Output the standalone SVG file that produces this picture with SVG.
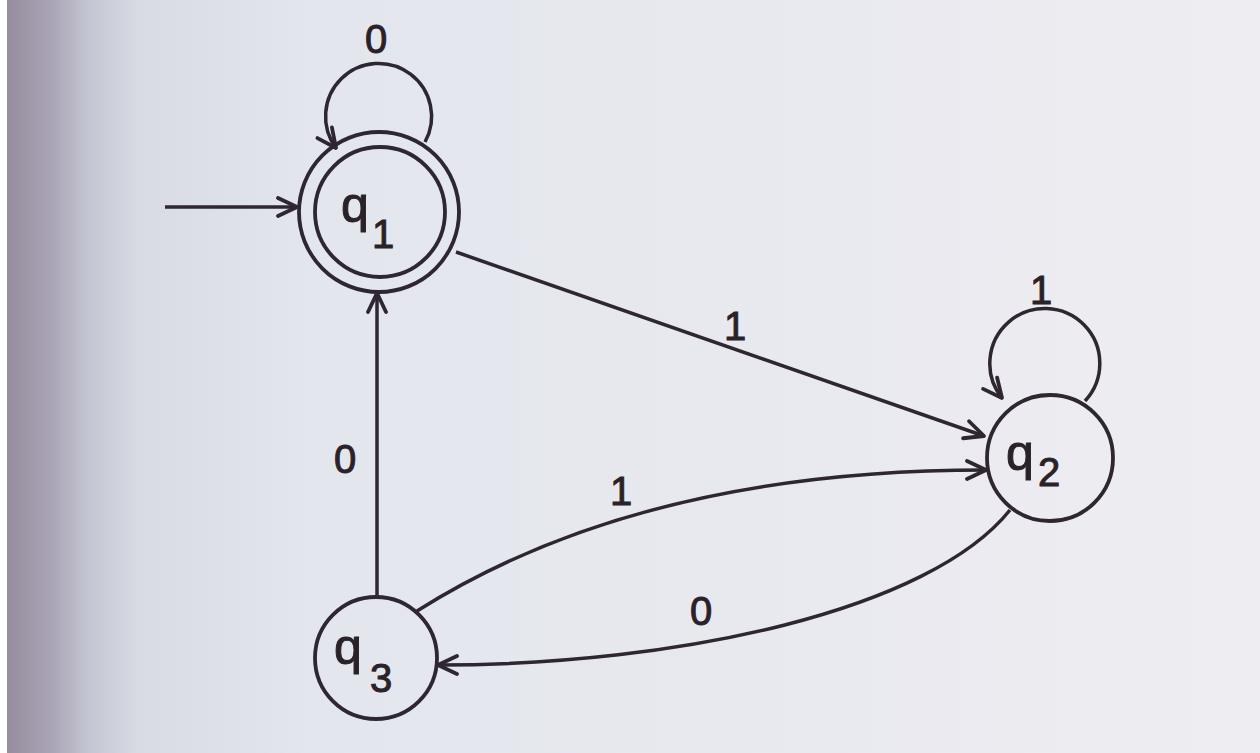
<svg xmlns="http://www.w3.org/2000/svg" width="1260" height="753" viewBox="0 0 1260 753">
  <defs>
    <linearGradient id="bg" x1="0" y1="0" x2="1" y2="0">
      <stop offset="0" stop-color="#938a9a"/>
      <stop offset="0.04" stop-color="#a8a3b5"/>
      <stop offset="0.07" stop-color="#c4c5d2"/>
      <stop offset="0.11" stop-color="#d8dbe4"/>
      <stop offset="0.25" stop-color="#e3e6ed"/>
      <stop offset="1" stop-color="#eeedf2"/>
    </linearGradient>
    <marker id="arr" viewBox="0 0 24 24" refX="22" refY="12" markerWidth="24" markerHeight="24" markerUnits="userSpaceOnUse" orient="auto">
      <path d="M3,3 L22,12 L3,21" fill="none" stroke="#2e2630" stroke-width="3.8" stroke-linecap="round" stroke-linejoin="round"/>
    </marker>
    <style>
      .st { fill: none; stroke: #2e2630; stroke-width: 3.8; }
      .ed { fill: none; stroke: #2e2630; stroke-width: 3.5; marker-end: url(#arr); }
      .q { font-family: "Liberation Sans", "DejaVu Sans", sans-serif; font-size: 50px; fill: #2a2229; stroke: #2a2229; stroke-width: 1; }
      .sub { font-family: "Liberation Sans", "DejaVu Sans", sans-serif; font-size: 40px; fill: #2a2229; }
      .lb { font-family: "Liberation Sans", "DejaVu Sans", sans-serif; font-size: 40px; fill: #2a2229; stroke: #2a2229; stroke-width: 1; text-anchor: middle; }
    </style>
  </defs>
  <rect x="0" y="0" width="1260" height="753" fill="url(#bg)"/>
  <rect x="0" y="0" width="7" height="753" fill="#ffffff"/>

  <g id="connectors">
    <line class="ed" x1="165" y1="207" x2="297" y2="207"/>
    <path class="ed" d="M425,142 A53,53 0 1 0 336,148"/>
    <line class="ed" x1="456" y1="252" x2="984" y2="436"/>
    <path class="ed" d="M1085,401 A55,55 0 1 0 1002,398"/>
    <line class="ed" x1="377" y1="596" x2="377" y2="293"/>
    <path class="ed" d="M417,611 Q640,470 986,470"/>
    <path class="ed" d="M1010,510 C930,610 680,665 438,665"/>
    <text class="lb" x="376" y="53">0</text>
    <text class="lb" x="735" y="340">1</text>
    <text class="lb" x="1041" y="304">1</text>
    <text class="lb" x="345" y="473">0</text>
    <text class="lb" x="621" y="505">1</text>
    <text class="lb" x="701" y="625">0</text>
  </g>

  <g id="q1">
    <circle class="st" cx="379" cy="212" r="80"/>
    <circle class="st" cx="380" cy="212" r="65"/>
    <text class="q" x="341" y="222">q<tspan class="sub" x="372" y="248">1</tspan></text>
  </g>
  <g id="q2">
    <circle class="st" cx="1050" cy="458" r="63"/>
    <text class="q" x="1006" y="470">q<tspan class="sub" x="1038" y="486">2</tspan></text>
  </g>
  <g id="q3">
    <circle class="st" cx="376" cy="658" r="61"/>
    <text class="q" x="334" y="664">q<tspan class="sub" x="370" y="692">3</tspan></text>
  </g>
</svg>
